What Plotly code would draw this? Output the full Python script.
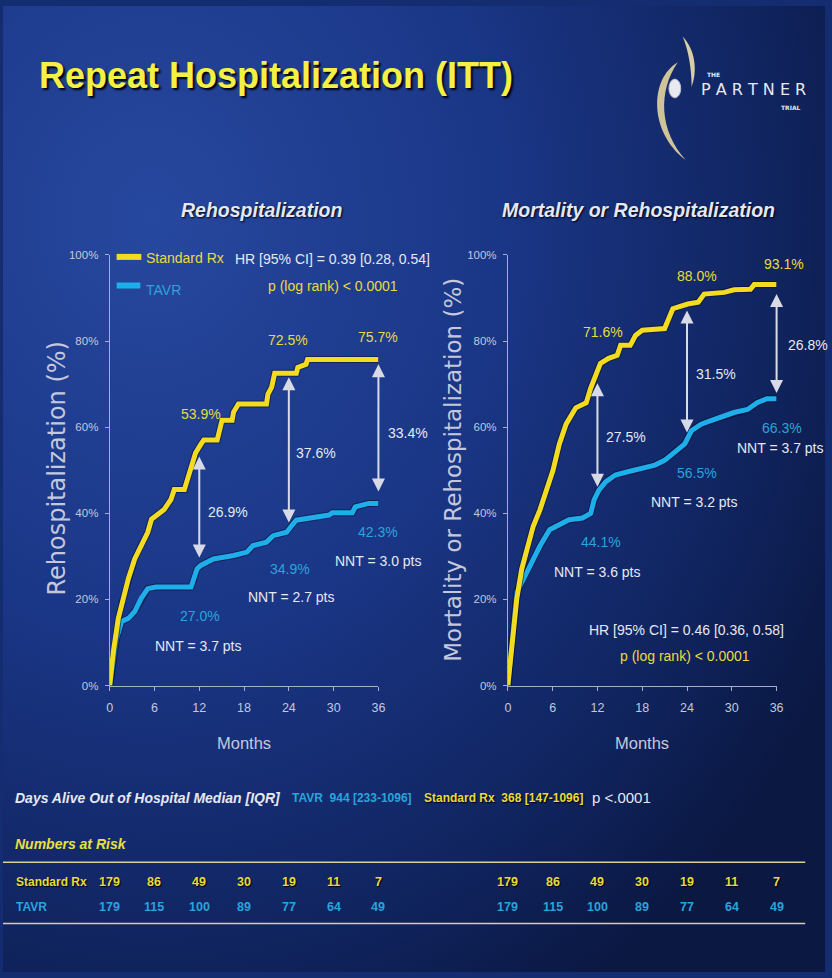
import base64
import plotly.graph_objects as go

W, H = 832, 978
NARROW = "Liberation Sans, Arial, sans-serif"
SANS = "DejaVu Sans, Liberation Sans, sans-serif"

YELLOW = "#f3dc20"
BLUE = "#1eaeea"
YTXT = "#e8dc3c"
BTXT = "#2aa4dc"
WTXT = "#e6e8f2"
GTXT = "#c4c8dc"
ARROW = "#d8dae6"

# ---------------- data ----------------
# Rehospitalization (left)
rehosp_std_m = [0, 0.5, 1.15, 1.8, 2.5, 3.35, 4.2, 5.1, 5.6, 6.2, 7.3, 8.2, 8.65, 10.0, 10.4, 10.9, 11.3, 11.5,
                12.2, 12.6, 14.4, 14.8, 15.05, 16.4, 16.6, 17.25, 21.0, 21.2, 21.7, 22.1, 25.0, 25.2, 26.3, 26.5, 36]
rehosp_std_p = [0, 8, 15.6, 20.2, 24.8, 29.4, 32.5, 35.6, 38.6, 39.4, 40.9, 43.2, 45.5, 45.5, 47.8, 50.9, 52.4, 54.0,
                56.0, 57.0, 57.0, 59.3, 61.6, 61.6, 63.5, 65.4, 65.4, 67.7, 69.3, 72.5, 72.5, 73.9, 74.6, 75.7, 75.7]
rehosp_tavr_m = [0, 0.5, 0.93, 1.6, 2.5, 3.35, 4.2, 5.1, 6.2, 10.9, 11.3, 11.7, 12.2, 13.9, 16.6, 18.4, 19.2, 21.0,
                 21.9, 23.7, 24.5, 25.0, 29.4, 29.8, 32.5, 32.9, 34.7, 36]
rehosp_tavr_p = [0, 6.4, 11, 14.9, 15.6, 17.2, 20.2, 22.5, 22.9, 22.9, 24.8, 27.1, 27.9, 29.4, 30.2, 31.0, 32.5, 33.3,
                 34.8, 35.6, 37.4, 38.4, 39.6, 40.1, 40.1, 41.5, 42.3, 42.3]

# Mortality or Rehospitalization (right)
mort_std_m = [0, 0.53, 1.2, 1.85, 2.5, 3.4, 4.3, 5.2, 6.05, 6.9, 7.8, 9.1, 10.5, 11.1, 11.8, 12.4, 13.5, 14.65, 15.1,
              16.4, 17.1, 18.0, 21.0, 21.5, 22.1, 24.1, 25.5, 26.3, 29.0, 30.3, 32.5, 33.0, 36]
mort_std_p = [0, 9.5, 20.2, 27, 31.7, 37, 40.8, 45.4, 50, 56.1, 60.7, 64.5, 65.7, 69.1, 72.2, 74.8, 76, 76.7, 79,
              79, 81.3, 82.5, 82.9, 84.8, 87.5, 88.6, 89, 90.9, 91.3, 91.9, 92, 93.1, 93.1]
mort_tavr_m = [0, 0.53, 1.2, 2.1, 2.95, 4.3, 5.6, 6.9, 8.2, 10.0, 11.1, 11.55, 12.2, 13.1, 14.4, 16.2, 18.0, 19.7,
               21.0, 22.4, 23.7, 24.6, 25.9, 27.2, 29.0, 30.3, 32.1, 33.4, 34.7, 36]
mort_tavr_p = [0, 11, 21.7, 24.8, 27.8, 32.4, 36.2, 37.4, 38.5, 38.9, 40.0, 43.1, 45.4, 47.3, 48.9, 49.7, 50.4, 51.2,
               52.3, 54.2, 56.1, 59.2, 60.7, 61.5, 62.6, 63.4, 64.1, 65.7, 66.6, 66.6]

# Differences shown by arrows (month, top %, bottom %)
arrow_months = [12, 24, 36]
rehosp_arrow_top = [53.2, 71.6, 74.6]
rehosp_arrow_bot = [29.4, 37.5, 44.7]
mort_arrow_top = [70.2, 87.1, 90.9]
mort_arrow_bot = [45.8, 58.4, 67.6]

# Numbers at risk
risk_months = [0, 6, 12, 18, 24, 30, 36]
risk_std = [179, 86, 49, 30, 19, 11, 7]
risk_tavr = [179, 115, 100, 89, 77, 64, 49]

x_ticks = [0, 6, 12, 18, 24, 30, 36]
y_ticks = [0, 20, 40, 60, 80, 100]
y_ticktext = ["0%", "20%", "40%", "60%", "80%", "100%"]

# ---------------- figure ----------------
fig = go.Figure()


def curve(xs, ys, color, xa, ya):
    fig.add_trace(go.Scatter(x=xs, y=ys, mode="lines", line=dict(color="rgba(4,10,40,0.5)", width=7),
                             xaxis=xa, yaxis=ya, hoverinfo="skip", cliponaxis=False))
    fig.add_trace(go.Scatter(x=xs, y=ys, mode="lines", line=dict(color=color, width=5),
                             xaxis=xa, yaxis=ya, cliponaxis=False))


curve(rehosp_tavr_m, rehosp_tavr_p, BLUE, "x", "y")
curve(rehosp_std_m, rehosp_std_p, YELLOW, "x", "y")
curve(mort_tavr_m, mort_tavr_p, BLUE, "x2", "y2")
curve(mort_std_m, mort_std_p, YELLOW, "x2", "y2")


def P(x, y):
    return x / W, 1 - y / H


anns = []


def text(t, x, y, color=WTXT, size=14, family=NARROW, bold=False, italic=False, xanchor="center", shadow=None):
    px_, py_ = P(x, y)
    f = dict(family=family, size=size, color=color, weight=700 if bold else 400, style="italic" if italic else "normal")
    if shadow:
        f["shadow"] = shadow
    anns.append(dict(text=t, x=px_, y=py_, xref="paper", yref="paper", xanchor=xanchor, yanchor="middle",
                     showarrow=False, font=f))


# arrows
for xa, ya, tops, bots in [("x", "y", rehosp_arrow_top, rehosp_arrow_bot), ("x2", "y2", mort_arrow_top, mort_arrow_bot)]:
    for m, t, b in zip(arrow_months, tops, bots):
        anns.append(dict(x=m, y=t, ax=m, ay=b, xref=xa, yref=ya, axref=xa, ayref=ya, text="", showarrow=True,
                         arrowhead=2, startarrowhead=2, arrowside="end+start", arrowsize=1.3, startarrowsize=1.3,
                         arrowwidth=2, arrowcolor=ARROW, standoff=0, startstandoff=0))

# title
text("Repeat Hospitalization (ITT)", 34, 70, color="#f4f046", size=36, bold=True, xanchor="left",
     shadow="2px 2px 2px #000010")

# subtitles
text("Rehospitalization", 262, 207, size=19.5, bold=True, italic=True, shadow="1px 1px 2px #000010")
text("Mortality or Rehospitalization", 643, 207, size=19.5, bold=True, italic=True, shadow="1px 1px 2px #000010")

# legend (left)
text("Standard Rx", 143, 255, color=YTXT, size=14, xanchor="left")
text("TAVR", 143, 288, color=BTXT, size=14, xanchor="left")
text("HR [95% CI] = 0.39 [0.28, 0.54]", 334, 256, size=14)
text("p (log rank) < 0.0001", 334, 283, color=YTXT, size=14)

# left chart labels
text("53.9%", 200, 413, color=YTXT)
text("72.5%", 288, 338, color=YTXT)
text("75.7%", 380, 335, color=YTXT)
text("33.4%", 410, 432)
text("37.6%", 317, 453)
text("26.9%", 228, 512)
text("42.3%", 380, 533, color=BTXT)
text("NNT = 3.0 pts", 380, 562)
text("34.9%", 290, 570, color=BTXT)
text("NNT = 2.7 pts", 292, 598)
text("27.0%", 199, 618, color=BTXT)
text("NNT = 3.7 pts", 198, 648)

# right chart labels
text("93.1%", 790, 261, color=YTXT)
text("88.0%", 702, 273, color=YTXT)
text("71.6%", 607, 330, color=YTXT)
text("26.8%", 793, 343, xanchor="left")
text("31.5%", 722, 373)
text("27.5%", 631, 436)
text("66.3%", 788, 427, color=BTXT)
text("NNT = 3.7 pts", 787, 447)
text("56.5%", 702, 473, color=BTXT)
text("NNT = 3.2 pts", 700, 502)
text("44.1%", 605, 543, color=BTXT)
text("NNT = 3.6 pts", 602, 573)
text("HR [95% CI] = 0.46 [0.36, 0.58]", 692, 632)
text("p (log rank) < 0.0001", 690, 658, color=YTXT)

# axis titles
text("Months", 244, 746, color=GTXT, size=16.5)
text("Months", 647, 746, color=GTXT, size=16.5)
for t, x, y, s in [("Rehospitalization (%)", 55, 468, 24), ("Mortality or Rehospitalization (%)", 456, 470, 23)]:
    px_, py_ = P(x, y)
    anns.append(dict(text=t, x=px_, y=py_, xref="paper", yref="paper", textangle=-90, showarrow=False,
                     xanchor="center", yanchor="middle", font=dict(family=SANS, size=s, color=GTXT)))

# bottom texts
text("Days Alive Out of Hospital Median [IQR]", 10, 802, size=14, bold=True, italic=True, xanchor="left")
text("TAVR  944 [233-1096]", 290, 802, color=BTXT, size=12, bold=True, xanchor="left")
text("Standard Rx  368 [147-1096]", 424, 802, color=YTXT, size=12, bold=True, xanchor="left",
     shadow="1px 1px 1px #000010")
text("p <.0001", 594, 801, size=15, xanchor="left")
text("Numbers at Risk", 10, 848, color="#e8e040", size=14, bold=True, italic=True, xanchor="left")
text("Standard Rx", 11, 887, color=YTXT, size=12, bold=True, xanchor="left", shadow="1px 1px 1px #000010")
text("TAVR", 11, 912, color=BTXT, size=12, bold=True, xanchor="left")
for xa in ["x", "x2"]:
    for m, a, b in zip(risk_months, risk_std, risk_tavr):
        anns.append(dict(text=str(a), x=m, y=P(0, 887)[1], xref=xa, yref="paper", showarrow=False,
                         xanchor="center", yanchor="middle",
                         font=dict(family=NARROW, size=12.5, color=YTXT, weight=700, shadow="1px 1px 1px #000010")))
        anns.append(dict(text=str(b), x=m, y=P(0, 912)[1], xref=xa, yref="paper", showarrow=False,
                         xanchor="center", yanchor="middle",
                         font=dict(family=NARROW, size=12.5, color=BTXT, weight=700)))

# logo text
text("THE", 719, 69, size=6, bold=True, family=SANS)
text("P A R T N E R", 760, 85, size=16, family=SANS)
text("TRIAL", 798, 103, size=6, bold=True, family=SANS)

shapes = []


def pline(x0, y0, x1, y1, color, width):
    a = P(x0, y0)
    b = P(x1, y1)
    shapes.append(dict(type="line", xref="paper", yref="paper", x0=a[0], y0=a[1], x1=b[0], y1=b[1],
                       line=dict(color=color, width=width)))


pline(115, 254, 140, 254, YELLOW, 6)
pline(115, 283, 139, 283, BLUE, 6)
pline(0, 867, 812, 867, "#d8d09a", 1.5)
pline(0, 929, 812, 929, "#d8d09a", 1.5)


def to_paper_path(cmds):
    out = []
    for c in cmds:
        if isinstance(c, str):
            out.append(c)
        else:
            x, y = P(*c)
            out.append(f"{x:.5f},{y:.5f}")
    return " ".join(out)


shapes.append(dict(type="path", xref="paper", yref="paper", fillcolor="#d9cfa6", line=dict(width=0),
                   path=to_paper_path(["M", (688, 31), "C", (701, 45), (703, 66), (697, 82), "C", (697, 64),
                                       (694, 46), (688, 31), "Z"])))
shapes.append(dict(type="path", xref="paper", yref="paper", fillcolor="#cfc498", line=dict(width=0),
                   path=to_paper_path(["M", (683, 57), "C", (654, 74), (654, 128), (691, 156), "C", (664, 126),
                                       (663, 86), (683, 57), "Z"])))
e0 = P(674, 74)
e1 = P(686, 93)
shapes.append(dict(type="circle", xref="paper", yref="paper", x0=e0[0], y0=e1[1], x1=e1[0], y1=e0[1],
                   fillcolor="#e8eaf0", line=dict(color="#b8bcc8", width=1)))

# background gradient
svg = ("<svg xmlns='http://www.w3.org/2000/svg' width='832' height='978' viewBox='0 0 832 978' "
       "preserveAspectRatio='none'><defs><radialGradient id='g' cx='0.18' cy='0.22' r='0.95'>"
       "<stop offset='0' stop-color='#27489f'/><stop offset='0.45' stop-color='#1a3686'/>"
       "<stop offset='0.8' stop-color='#10245f'/><stop offset='1' stop-color='#0a1842'/>"
       "</radialGradient></defs><rect width='832' height='978' fill='url(#g)'/></svg>")
src = "data:image/svg+xml;base64," + base64.b64encode(svg.encode()).decode()

axis_common = dict(range=[0, 36], tickvals=x_ticks, showline=True, linecolor="#a8aec8", linewidth=1,
                   ticks="outside", ticklen=4, tickcolor="#a8aec8", showgrid=False, zeroline=False,
                   tickfont=dict(family=NARROW, size=12.5, color=GTXT), ticklabelstandoff=6, fixedrange=True)
yaxis_common = dict(range=[0, 100], tickvals=y_ticks, ticktext=y_ticktext, showline=True, linecolor="#a8aec8",
                    linewidth=1, ticks="outside", ticklen=4, tickcolor="#a8aec8", showgrid=False, zeroline=False,
                    tickfont=dict(family=NARROW, size=11.5, color=GTXT), ticklabelstandoff=4, fixedrange=True)

y_dom = [1 - 688 / H, 1 - 252 / H]
fig.update_layout(
    width=W, height=H, margin=dict(l=0, r=0, t=0, b=0),
    paper_bgcolor="#142c70", plot_bgcolor="rgba(0,0,0,0)", showlegend=False,
    xaxis=dict(domain=[108 / W, 380 / W], anchor="y", **axis_common),
    yaxis=dict(domain=y_dom, anchor="x", **yaxis_common),
    xaxis2=dict(domain=[511 / W, 783 / W], anchor="y2", **axis_common),
    yaxis2=dict(domain=y_dom, anchor="x2", **yaxis_common),
    annotations=anns, shapes=shapes,
    images=[dict(source=src, xref="paper", yref="paper", x=0, y=1, sizex=1, sizey=1, sizing="stretch",
                 layer="below", xanchor="left", yanchor="top")],
)

fig.write_html("out.html", config={"displayModeBar": False},
               post_script="document.body.style.margin='0';document.body.style.overflow='hidden';"
                           "document.body.style.background='#0a1842';")
